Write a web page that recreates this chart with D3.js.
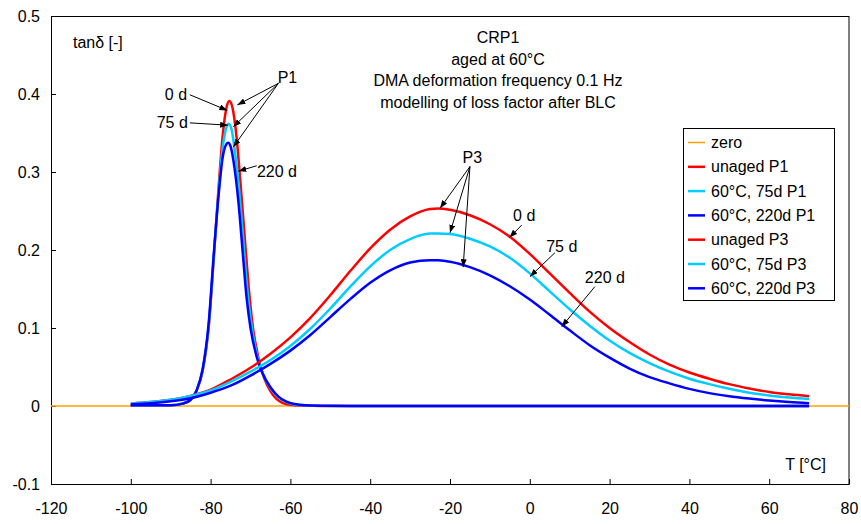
<!DOCTYPE html>
<meta charset="utf-8">
<script src="https://d3js.org/d3.v7.min.js"></script>
<style>
    body { margin: 0; background: #fff; }
    text { font-family: Arial, "Liberation Sans", sans-serif; fill: #000; }
</style>
<div id="chart"></div>
<script>

    // axis ticks
    var xTicks = [-120, -100, -80, -60, -40, -20, 0, 20, 40, 60, 80];
    var yTicks = [-0.1, 0, 0.1, 0.2, 0.3, 0.4, 0.5];

    // P1 peaks (T, tan delta)
    var p1Unaged = [[-100,0.001],[-90,0.001],[-87,0.003],[-85,0.008],[-83.5,0.02],[-82,0.045],[-80.5,0.1],
        [-79.2,0.19],[-78,0.28],[-77,0.345],[-76,0.383],[-75.3,0.391],[-74.5,0.382],[-73.5,0.345],[-72.5,0.285],
        [-71.5,0.22],[-70.5,0.155],[-69.5,0.105],[-68,0.061],[-66.5,0.035],[-65,0.019],[-63.5,0.009],[-62,0.004],
        [-60,0.0015],[-57,0.0005],[-52,0],[70,0]];
    var p1Aged75 = [[-100,0.001],[-90,0.001],[-87,0.003],[-85,0.008],[-83.5,0.02],[-82,0.046],[-80.5,0.102],
        [-79.2,0.192],[-78,0.275],[-77,0.33],[-76,0.358],[-75.5,0.362],[-74.8,0.356],[-74,0.33],[-73,0.285],
        [-72,0.225],[-71,0.16],[-70,0.113],[-68.5,0.068],[-67,0.043],[-65,0.023],[-63,0.011],[-61,0.005],
        [-59,0.002],[-56,0.0008],[-50,0.0001],[-45,0],[70,0]];
    var p1Aged220 = [[-100,0.001],[-90,0.001],[-87,0.003],[-85,0.008],[-83.5,0.02],[-82,0.047],[-80.5,0.105],
        [-79.2,0.195],[-78,0.27],[-77,0.318],[-76,0.336],[-75.6,0.3376],[-75,0.333],[-74,0.305],[-73,0.26],
        [-72,0.2],[-71,0.14],[-70,0.1],[-68.5,0.064],[-67,0.042],[-65,0.024],[-63,0.012],[-61,0.0055],
        [-59,0.0025],[-56,0.001],[-50,0.0002],[-45,0],[70,0]];

    // P3 peaks, one temperature grid
    var p3Temps = [-100,-95,-90,-85,-80,-75,-70,-65,-60,-55,-50,-45,-40,-35,-30,-25,-23,-20,-15,-10,-5,
        0,5,10,15,20,25,30,35,40,45,50,55,60,65,70];
    var p3Unaged = [0.003,0.005,0.008,0.013,0.021,0.034,0.049,0.067,0.088,0.113,0.142,0.173,0.202,0.226,0.243,
        0.2525,0.2532,0.2515,0.2445,0.233,0.217,0.195,0.17,0.145,0.121,0.1,0.082,0.066,0.053,0.043,0.035,
        0.028,0.0225,0.018,0.015,0.0125];
    var p3Aged75 = [0.003,0.005,0.008,0.013,0.02,0.031,0.044,0.059,0.077,0.099,0.125,0.153,0.179,0.2,0.214,
        0.221,0.2212,0.2205,0.2145,0.2045,0.19,0.17,0.147,0.124,0.103,0.084,0.068,0.055,0.044,0.035,0.028,
        0.022,0.017,0.0135,0.011,0.009];
    var p3Aged220 = [0.002,0.0035,0.006,0.01,0.017,0.026,0.039,0.054,0.071,0.091,0.114,0.137,0.158,0.174,0.184,
        0.187,0.1868,0.185,0.178,0.1675,0.1535,0.1365,0.117,0.097,0.078,0.062,0.048,0.037,0.029,0.022,0.0165,
        0.0125,0.0095,0.007,0.005,0.0035];

    var seriesNames = ["zero", "unaged P1", "60°C, 75d P1", "60°C, 220d P1", "unaged P3", "60°C, 75d P3", "60°C, 220d P3"];
    var seriesColors = ["#FFA000", "#FF0000", "#00CCFF", "#0000FF", "#FF0000", "#00CCFF", "#0000FF"];

    var width = 861, height = 524;
    var margin = {top: 16, right: 12, bottom: 40, left: 51};

    var svg = d3.select("#chart").append("svg")
        .attr("width", width)
        .attr("height", height);

    var x = d3.scaleLinear().domain([-120, 80]).range([margin.left, width - margin.right]);
    var y = d3.scaleLinear().domain([-0.1, 0.5]).range([height - margin.bottom, margin.top]);

    // arrow head
    svg.append("defs").append("marker")
        .attr("id", "arrow")
        .attr("markerUnits", "userSpaceOnUse")
        .attr("viewBox", "0 0 8 6")
        .attr("refX", 8).attr("refY", 3)
        .attr("markerWidth", 8).attr("markerHeight", 6)
        .attr("orient", "auto")
        .append("path").attr("d", "M0,0 L8,3 L0,6 z").attr("fill", "#000");

    // frame of the plot area
    svg.append("rect")
        .attr("x", margin.left + 0.5).attr("y", margin.top + 0.5)
        .attr("width", width - margin.left - margin.right - 0.5)
        .attr("height", height - margin.top - margin.bottom)
        .attr("fill", "none").attr("stroke", "#000");

    // axes
    var xAxis = svg.append("g")
        .attr("transform", "translate(0," + (height - margin.bottom) + ")")
        .call(d3.axisBottom(x).tickValues(xTicks).tickFormat(String)
            .tickSizeInner(-5).tickSizeOuter(0).tickPadding(19));
    var yAxis = svg.append("g")
        .attr("transform", "translate(" + margin.left + ",0)")
        .call(d3.axisLeft(y).tickValues(yTicks).tickFormat(String)
            .tickSizeInner(-5).tickSizeOuter(0).tickPadding(11));
    svg.selectAll(".tick text").attr("font-size", 16).attr("font-family", "Arial, 'Liberation Sans', sans-serif");
    svg.selectAll(".domain, .tick line").attr("stroke", "#000");

    // series
    var line = d3.line()
        .x(function(d) { return x(d[0]); })
        .y(function(d) { return y(d[1]); })
        .curve(d3.curveMonotoneX);

    function zip(ts, vs) { return ts.map(function(t, i) { return [t, vs[i]]; }); }

    var seriesData = [
        [[-120, 0], [80, 0]],
        p1Unaged, p1Aged75, p1Aged220,
        zip(p3Temps, p3Unaged), zip(p3Temps, p3Aged75), zip(p3Temps, p3Aged220)
    ];

    svg.selectAll("path.series")
        .data(seriesData)
        .enter().append("path")
        .attr("class", "series")
        .attr("d", line)
        .attr("fill", "none")
        .attr("stroke", function(d, i) { return seriesColors[i]; })
        .attr("stroke-width", function(d, i) { return i === 0 ? 1.5 : 2.5; });

    // texts
    svg.append("text").attr("x", 73).attr("y", 48).attr("font-size", 16).text("tanδ [-]");
    svg.append("text").attr("x", 826).attr("y", 470).attr("font-size", 16).attr("text-anchor", "end").text("T [°C]");

    var titleLines = ["CRP1", "aged at 60°C", "DMA deformation frequency 0.1 Hz", "modelling of loss factor after BLC"];
    svg.selectAll("text.title")
        .data(titleLines)
        .enter().append("text")
        .attr("class", "title")
        .attr("x", 498)
        .attr("y", function(d, i) { return 43 + i * 21.5; })
        .attr("text-anchor", "middle")
        .attr("font-size", 16)
        .text(function(d) { return d; });

    // annotations: label [T, v, anchor, text], arrows [from T, v, to T, v]
    var labels = [
        [-63.2, 0.414, "start", "P1"],
        [-85.9, 0.392, "end", "0 d"],
        [-85.7, 0.356, "end", "75 d"],
        [-68.4, 0.294, "start", "220 d"],
        [-14.4, 0.3115, "middle", "P3"],
        [-4.2, 0.237, "start", "0 d"],
        [4.1, 0.197, "start", "75 d"],
        [13.8, 0.158, "start", "220 d"]
    ];
    var arrows = [
        [-63.0, 0.4137, -73.3, 0.386],
        [-63.0, 0.4137, -74.3, 0.358],
        [-63.0, 0.4137, -74.3, 0.332],
        [-85.2, 0.399, -75.8, 0.379],
        [-85.2, 0.363, -75.6, 0.360],
        [-68.45, 0.308, -73.05, 0.301],
        [-15.0, 0.307, -22.5, 0.2535],
        [-15.0, 0.307, -20.0, 0.222],
        [-15.0, 0.307, -16.7, 0.178],
        [-2.0, 0.232, -5.1, 0.216],
        [6.3, 0.1965, 0.05, 0.166],
        [16.3, 0.153, 8.0, 0.1017]
    ];

    svg.selectAll("line.arrow")
        .data(arrows)
        .enter().append("line")
        .attr("class", "arrow")
        .attr("x1", function(d) { return x(d[0]); })
        .attr("y1", function(d) { return y(d[1]); })
        .attr("x2", function(d) { return x(d[2]); })
        .attr("y2", function(d) { return y(d[3]); })
        .attr("stroke", "#000")
        .attr("stroke-width", 1)
        .attr("marker-end", "url(#arrow)");

    svg.selectAll("text.label")
        .data(labels)
        .enter().append("text")
        .attr("class", "label")
        .attr("x", function(d) { return x(d[0]); })
        .attr("y", function(d) { return y(d[1]); })
        .attr("text-anchor", function(d) { return d[2]; })
        .attr("font-size", 16)
        .text(function(d) { return d[3]; });

    // legend
    var legend = svg.append("g").attr("transform", "translate(683,128)");
    legend.append("rect")
        .attr("x", 0.5).attr("y", 0.5)
        .attr("width", 151).attr("height", 172)
        .attr("fill", "#fff").attr("stroke", "#000");
    var item = legend.selectAll("g.item")
        .data(seriesNames)
        .enter().append("g")
        .attr("class", "item")
        .attr("transform", function(d, i) { return "translate(0," + (14.5 + i * 24.3) + ")"; });
    item.append("line")
        .attr("x1", 5).attr("x2", 22)
        .attr("stroke", function(d, i) { return seriesColors[i]; })
        .attr("stroke-width", function(d, i) { return i === 0 ? 1.5 : 2.5; });
    item.append("text")
        .attr("x", 28).attr("dy", "0.35em")
        .attr("font-size", 16)
        .text(function(d) { return d; });

</script>
